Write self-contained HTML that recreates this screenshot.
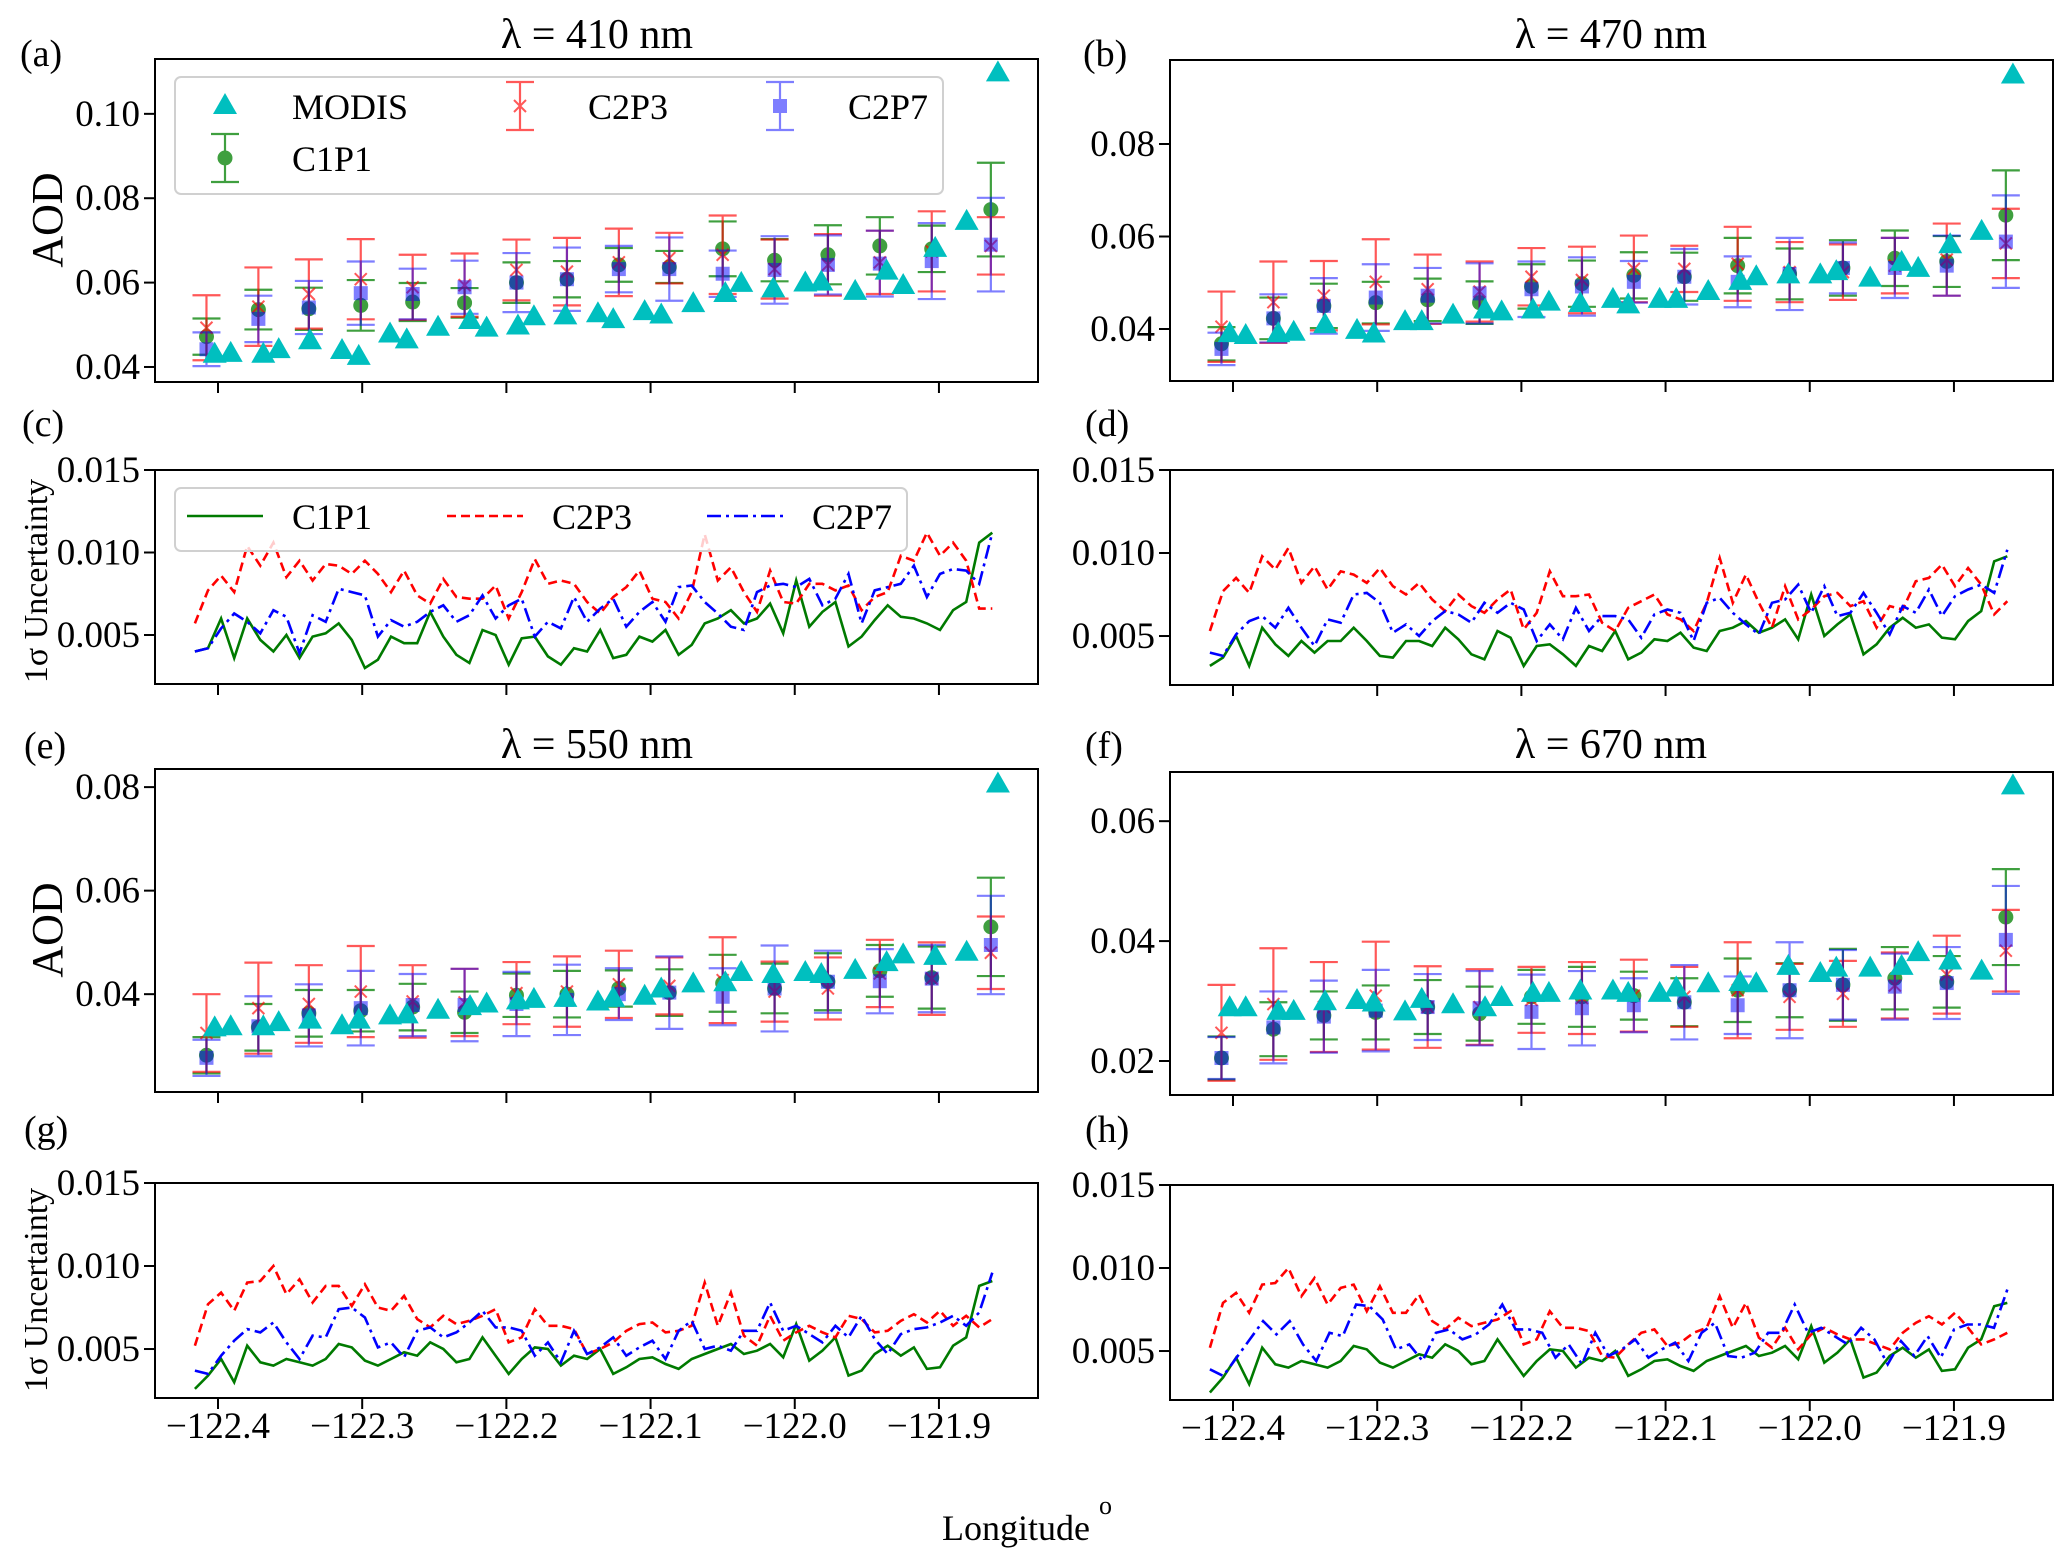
<!DOCTYPE html>
<html><head><meta charset="utf-8"><style>
html,body{margin:0;padding:0;background:#fff;}
svg{display:block;font-family:"Liberation Serif","DejaVu Serif",serif;}
</style></head><body>
<svg id="chart" width="2067" height="1565" viewBox="0 0 2067 1565" xmlns="http://www.w3.org/2000/svg">
<rect x="0" y="0" width="2067" height="1565" fill="#fff"/>
<text x="20" y="66" font-size="38">(a)</text>
<text x="1083" y="66" font-size="38">(b)</text>
<text x="22" y="436" font-size="38">(c)</text>
<text x="1085" y="436" font-size="38">(d)</text>
<text x="24" y="758" font-size="38">(e)</text>
<text x="1085" y="758" font-size="38">(f)</text>
<text x="24" y="1142" font-size="38">(g)</text>
<text x="1085" y="1142" font-size="38">(h)</text>
<text x="597" y="48" font-size="42" text-anchor="middle">λ = 410 nm</text>
<text x="1611" y="48" font-size="42" text-anchor="middle">λ = 470 nm</text>
<text x="597" y="758" font-size="42" text-anchor="middle">λ = 550 nm</text>
<text x="1611" y="758" font-size="42" text-anchor="middle">λ = 670 nm</text>
<text transform="translate(62,220) rotate(-90)" font-size="44" text-anchor="middle">AOD</text>
<text transform="translate(62,930) rotate(-90)" font-size="44" text-anchor="middle">AOD</text>
<text transform="translate(47,581) rotate(-90)" font-size="34" text-anchor="middle">1σ Uncertainty</text>
<text transform="translate(47,1290) rotate(-90)" font-size="34" text-anchor="middle">1σ Uncertainty</text>
<text x="942" y="1540" font-size="36">Longitude <tspan dy="-26" font-size="26">o</tspan></text>
</svg>
<script>
// ---------- data ----------
const xTickValues = [-122.4, -122.3, -122.2, -122.1, -122.0, -121.9];
const xTickLabels = ["\u2212122.4", "\u2212122.3", "\u2212122.2", "\u2212122.1", "\u2212122.0", "\u2212121.9"];
const aodTicksA = [0.04, 0.06, 0.08, 0.10];
const aodTickLabelsA = ["0.04", "0.06", "0.08", "0.10"];
const aodTicksB = [0.04, 0.06, 0.08];
const aodTickLabelsB = ["0.04", "0.06", "0.08"];
const aodTicksE = [0.04, 0.06, 0.08];
const aodTickLabelsE = ["0.04", "0.06", "0.08"];
const aodTicksF = [0.02, 0.04, 0.06];
const aodTickLabelsF = ["0.02", "0.04", "0.06"];
const uncTicks = [0.005, 0.010, 0.015];
const uncTickLabels = ["0.005", "0.010", "0.015"];

const retrievalLon = [-122.408,-122.372,-122.337,-122.301,-122.265,-122.229,-122.193,-122.158,-122.122,-122.087,-122.050,-122.014,-121.977,-121.941,-121.905,-121.864];
const modisLon = [-122.4023,-122.3912,-122.3686,-122.3579,-122.3362,-122.3140,-122.3024,-122.2807,-122.2691,-122.2474,-122.2252,-122.2137,-122.1920,-122.1809,-122.1591,-122.1365,-122.1259,-122.1041,-122.0926,-122.0704,-122.0482,-122.0371,-122.0149,-121.9927,-121.9816,-121.9581,-121.9363,-121.9248,-121.9026,-121.8808,-121.8591];

// 410 nm
const modisA = [0.0429,0.0431,0.0429,0.0440,0.0461,0.0438,0.0424,0.0477,0.0463,0.0493,0.0509,0.0491,0.0496,0.0518,0.0520,0.0525,0.0511,0.0530,0.0522,0.0549,0.0573,0.0597,0.0584,0.0598,0.0600,0.0578,0.0626,0.0592,0.0680,0.0744,0.1096];
const c1p1A = [0.0472,0.0536,0.0538,0.0546,0.0554,0.0552,0.0600,0.0608,0.0642,0.0637,0.0680,0.0653,0.0666,0.0687,0.0680,0.0773];
const c1p1ErrA = [0.0043,0.0047,0.0050,0.0060,0.0045,0.0035,0.0048,0.0043,0.0040,0.0038,0.0065,0.0050,0.0070,0.0068,0.0055,0.0111];
const c2p3A = [0.0493,0.0543,0.0573,0.0608,0.0589,0.0594,0.0630,0.0626,0.0648,0.0658,0.0666,0.0632,0.0642,0.0648,0.0674,0.0687];
const c2p3ErrA = [0.0077,0.0093,0.0082,0.0095,0.0077,0.0075,0.0072,0.0080,0.0080,0.0060,0.0093,0.0070,0.0073,0.0075,0.0095,0.0068];
const c2p7A = [0.0442,0.0514,0.0541,0.0575,0.0573,0.0589,0.0600,0.0608,0.0632,0.0632,0.0621,0.0630,0.0642,0.0645,0.0651,0.0690];
const c2p7ErrA = [0.0040,0.0055,0.0063,0.0075,0.0060,0.0063,0.0070,0.0075,0.0055,0.0075,0.0055,0.0080,0.0070,0.0078,0.0090,0.0111];

// 470 nm
const modisB = [0.0389,0.0385,0.0389,0.0392,0.0408,0.0396,0.0388,0.0415,0.0415,0.0429,0.0440,0.0436,0.0440,0.0457,0.0454,0.0463,0.0451,0.0463,0.0463,0.0480,0.0502,0.0512,0.0516,0.0516,0.0523,0.0509,0.0543,0.0530,0.0581,0.0610,0.0948];
const c1p1B = [0.0368,0.0423,0.0450,0.0457,0.0463,0.0457,0.0492,0.0498,0.0516,0.0513,0.0537,0.0519,0.0532,0.0553,0.0546,0.0646];
const c1p1ErrB = [0.0036,0.0045,0.0048,0.0045,0.0046,0.0046,0.0048,0.0050,0.0050,0.0052,0.0060,0.0055,0.0060,0.0060,0.0055,0.0097];
const c2p3B = [0.0405,0.0458,0.0472,0.0502,0.0486,0.0481,0.0513,0.0506,0.0530,0.0530,0.0541,0.0523,0.0523,0.0537,0.0550,0.0585];
const c2p3ErrB = [0.0076,0.0088,0.0075,0.0092,0.0075,0.0065,0.0062,0.0072,0.0072,0.0050,0.0080,0.0065,0.0060,0.0060,0.0078,0.0075];
const c2p7B = [0.0357,0.0423,0.0450,0.0468,0.0472,0.0477,0.0486,0.0492,0.0502,0.0513,0.0502,0.0519,0.0532,0.0532,0.0537,0.0589];
const c2p7ErrB = [0.0035,0.0052,0.0060,0.0072,0.0060,0.0065,0.0060,0.0063,0.0045,0.0060,0.0055,0.0078,0.0055,0.0065,0.0065,0.0100];

// 550 nm
const modisE = [0.0334,0.0336,0.0336,0.0344,0.0349,0.0338,0.0349,0.0357,0.0359,0.0368,0.0375,0.0380,0.0386,0.0389,0.0391,0.0384,0.0391,0.0395,0.0409,0.0419,0.0421,0.0441,0.0437,0.0441,0.0437,0.0445,0.0460,0.0475,0.0472,0.0480,0.0805];
const c1p1E = [0.0282,0.0336,0.0363,0.0368,0.0375,0.0365,0.0398,0.0400,0.0411,0.0403,0.0421,0.0411,0.0424,0.0445,0.0432,0.0530];
const c1p1ErrE = [0.0035,0.0045,0.0045,0.0040,0.0045,0.0040,0.0042,0.0045,0.0035,0.0045,0.0055,0.0048,0.0055,0.0050,0.0060,0.0095];
const c2p3E = [0.0325,0.0373,0.0381,0.0405,0.0386,0.0384,0.0402,0.0405,0.0419,0.0416,0.0427,0.0405,0.0411,0.0440,0.0430,0.0480];
const c2p3ErrE = [0.0075,0.0088,0.0075,0.0088,0.0070,0.0065,0.0060,0.0068,0.0065,0.0055,0.0083,0.0058,0.0060,0.0065,0.0070,0.0070];
const c2p7E = [0.0277,0.0338,0.0359,0.0373,0.0379,0.0379,0.0381,0.0389,0.0400,0.0403,0.0395,0.0411,0.0424,0.0425,0.0430,0.0495];
const c2p7ErrE = [0.0035,0.0058,0.0060,0.0072,0.0060,0.0070,0.0062,0.0068,0.0050,0.0070,0.0055,0.0083,0.0060,0.0062,0.0065,0.0095];

// 670 nm
const modisF = [0.0288,0.0288,0.0282,0.0282,0.0298,0.0300,0.0296,0.0281,0.0302,0.0293,0.0288,0.0305,0.0312,0.0312,0.0316,0.0316,0.0312,0.0312,0.0321,0.0328,0.0330,0.0328,0.0357,0.0345,0.0354,0.0354,0.0357,0.0380,0.0366,0.0349,0.0658];
const c1p1F = [0.0205,0.0253,0.0276,0.0281,0.0290,0.0279,0.0307,0.0307,0.0309,0.0298,0.0318,0.0318,0.0327,0.0338,0.0332,0.0440];
const c1p1ErrF = [0.0036,0.0045,0.0040,0.0045,0.0045,0.0045,0.0045,0.0050,0.0040,0.0040,0.0053,0.0045,0.0060,0.0052,0.0043,0.0080];
const c2p3F = [0.0247,0.0295,0.0290,0.0309,0.0290,0.0290,0.0302,0.0305,0.0309,0.0307,0.0318,0.0307,0.0312,0.0326,0.0344,0.0384];
const c2p3ErrF = [0.0080,0.0093,0.0075,0.0090,0.0068,0.0063,0.0055,0.0060,0.0060,0.0050,0.0080,0.0055,0.0055,0.0055,0.0065,0.0068];
const c2p7F = [0.0205,0.0256,0.0274,0.0284,0.0290,0.0288,0.0282,0.0288,0.0293,0.0298,0.0293,0.0318,0.0327,0.0324,0.0330,0.0402];
const c2p7ErrF = [0.0035,0.0060,0.0060,0.0068,0.0055,0.0062,0.0062,0.0062,0.0045,0.0062,0.0048,0.0080,0.0058,0.0055,0.0060,0.0090];

// uncertainty lines (evenly spaced along the track)
const uncLonStart = -122.416, uncLonEnd = -121.863;
const uncC1p1C = [0.0040,0.0042,0.0060,0.0036,0.0060,0.0047,0.0040,0.0050,0.0036,0.0049,0.0051,0.0057,0.0047,0.0030,0.0035,0.0049,0.0045,0.0045,0.0064,0.0049,0.0038,0.0033,0.0053,0.0050,0.0032,0.0048,0.0049,0.0037,0.0032,0.0042,0.0040,0.0053,0.0036,0.0038,0.0049,0.0046,0.0053,0.0038,0.0044,0.0057,0.0060,0.0065,0.0057,0.0060,0.0069,0.0051,0.0083,0.0055,0.0064,0.0070,0.0043,0.0049,0.0059,0.0068,0.0061,0.0060,0.0057,0.0053,0.0065,0.0070,0.0106,0.0112];
const uncC2p3C = [0.0057,0.0077,0.0086,0.0076,0.0104,0.0092,0.0106,0.0085,0.0095,0.0083,0.0093,0.0092,0.0087,0.0095,0.0087,0.0076,0.0089,0.0074,0.0069,0.0084,0.0073,0.0072,0.0072,0.0080,0.0060,0.0076,0.0096,0.0081,0.0083,0.0081,0.0070,0.0063,0.0073,0.0079,0.0089,0.0072,0.0070,0.0060,0.0076,0.0111,0.0083,0.0091,0.0076,0.0064,0.0089,0.0070,0.0069,0.0081,0.0081,0.0077,0.0080,0.0065,0.0073,0.0076,0.0098,0.0095,0.0112,0.0098,0.0106,0.0095,0.0066,0.0066];
const uncC2p7C = [0.0040,0.0042,0.0054,0.0063,0.0058,0.0051,0.0065,0.0061,0.0039,0.0062,0.0058,0.0078,0.0076,0.0074,0.0049,0.0059,0.0055,0.0058,0.0064,0.0068,0.0058,0.0062,0.0074,0.0060,0.0068,0.0072,0.0049,0.0058,0.0054,0.0073,0.0058,0.0066,0.0072,0.0055,0.0064,0.0070,0.0058,0.0079,0.0080,0.0070,0.0063,0.0055,0.0053,0.0076,0.0080,0.0081,0.0079,0.0084,0.0068,0.0072,0.0087,0.0057,0.0077,0.0079,0.0081,0.0092,0.0073,0.0087,0.0090,0.0089,0.0081,0.0112];
const uncC1p1D = [0.0032,0.0037,0.0050,0.0032,0.0055,0.0045,0.0038,0.0047,0.0040,0.0047,0.0047,0.0055,0.0047,0.0038,0.0037,0.0047,0.0047,0.0044,0.0055,0.0048,0.0039,0.0036,0.0053,0.0049,0.0032,0.0044,0.0045,0.0039,0.0032,0.0044,0.0041,0.0053,0.0036,0.0040,0.0048,0.0047,0.0052,0.0043,0.0041,0.0053,0.0055,0.0059,0.0052,0.0055,0.0060,0.0048,0.0075,0.0050,0.0057,0.0063,0.0039,0.0045,0.0055,0.0061,0.0055,0.0057,0.0049,0.0048,0.0059,0.0065,0.0095,0.0098];
const uncC2p3D = [0.0053,0.0077,0.0085,0.0076,0.0098,0.0090,0.0103,0.0082,0.0092,0.0078,0.0089,0.0087,0.0082,0.0091,0.0080,0.0075,0.0082,0.0072,0.0065,0.0075,0.0068,0.0064,0.0072,0.0078,0.0054,0.0064,0.0089,0.0074,0.0074,0.0075,0.0058,0.0053,0.0067,0.0071,0.0075,0.0063,0.0060,0.0053,0.0070,0.0097,0.0070,0.0087,0.0070,0.0055,0.0080,0.0060,0.0066,0.0074,0.0076,0.0068,0.0071,0.0055,0.0068,0.0066,0.0083,0.0085,0.0093,0.0080,0.0091,0.0081,0.0063,0.0071];
const uncC2p7D = [0.0040,0.0038,0.0051,0.0059,0.0062,0.0055,0.0067,0.0055,0.0044,0.0060,0.0058,0.0075,0.0076,0.0070,0.0052,0.0057,0.0050,0.0059,0.0065,0.0063,0.0058,0.0070,0.0064,0.0070,0.0066,0.0047,0.0057,0.0048,0.0067,0.0053,0.0062,0.0062,0.0060,0.0049,0.0063,0.0066,0.0064,0.0047,0.0070,0.0073,0.0064,0.0057,0.0051,0.0070,0.0072,0.0081,0.0064,0.0080,0.0062,0.0064,0.0076,0.0064,0.0051,0.0068,0.0064,0.0078,0.0062,0.0074,0.0078,0.0081,0.0076,0.0102];
const uncC1p1G = [0.0026,0.0034,0.0044,0.0030,0.0052,0.0042,0.0040,0.0044,0.0042,0.0040,0.0044,0.0053,0.0051,0.0043,0.0040,0.0044,0.0048,0.0046,0.0054,0.0050,0.0042,0.0044,0.0057,0.0046,0.0035,0.0044,0.0051,0.0050,0.0040,0.0046,0.0044,0.0050,0.0035,0.0039,0.0044,0.0045,0.0041,0.0038,0.0044,0.0047,0.0050,0.0053,0.0047,0.0049,0.0053,0.0045,0.0065,0.0043,0.0049,0.0057,0.0034,0.0037,0.0047,0.0052,0.0046,0.0051,0.0038,0.0039,0.0052,0.0057,0.0088,0.0091];
const uncC2p3G = [0.0052,0.0077,0.0084,0.0073,0.0090,0.0091,0.0100,0.0083,0.0092,0.0078,0.0088,0.0088,0.0076,0.0089,0.0075,0.0073,0.0082,0.0068,0.0063,0.0070,0.0065,0.0067,0.0070,0.0074,0.0054,0.0057,0.0074,0.0064,0.0064,0.0062,0.0047,0.0050,0.0054,0.0061,0.0065,0.0066,0.0060,0.0061,0.0064,0.0090,0.0064,0.0084,0.0058,0.0052,0.0070,0.0055,0.0060,0.0064,0.0060,0.0057,0.0070,0.0068,0.0060,0.0061,0.0067,0.0071,0.0066,0.0073,0.0064,0.0070,0.0063,0.0068];
const uncC2p7G = [0.0037,0.0035,0.0046,0.0055,0.0062,0.0060,0.0066,0.0054,0.0044,0.0058,0.0057,0.0074,0.0075,0.0069,0.0051,0.0054,0.0045,0.0061,0.0063,0.0057,0.0060,0.0066,0.0073,0.0063,0.0063,0.0061,0.0046,0.0054,0.0042,0.0061,0.0047,0.0051,0.0057,0.0046,0.0051,0.0055,0.0044,0.0061,0.0067,0.0050,0.0052,0.0049,0.0061,0.0061,0.0078,0.0061,0.0064,0.0059,0.0054,0.0064,0.0057,0.0070,0.0056,0.0047,0.0059,0.0062,0.0063,0.0066,0.0070,0.0064,0.0072,0.0096];
const uncC1p1H = [0.0025,0.0034,0.0046,0.0030,0.0052,0.0042,0.0040,0.0044,0.0042,0.0040,0.0044,0.0053,0.0051,0.0043,0.0040,0.0044,0.0048,0.0046,0.0054,0.0050,0.0042,0.0044,0.0057,0.0046,0.0035,0.0044,0.0051,0.0050,0.0040,0.0046,0.0044,0.0050,0.0035,0.0039,0.0044,0.0045,0.0041,0.0038,0.0044,0.0047,0.0050,0.0053,0.0047,0.0049,0.0053,0.0045,0.0065,0.0043,0.0049,0.0057,0.0034,0.0037,0.0047,0.0052,0.0046,0.0051,0.0038,0.0039,0.0052,0.0057,0.0077,0.0079];
const uncC2p3H = [0.0052,0.0079,0.0085,0.0073,0.0090,0.0091,0.0100,0.0083,0.0094,0.0078,0.0088,0.0090,0.0074,0.0089,0.0073,0.0073,0.0084,0.0068,0.0063,0.0070,0.0065,0.0067,0.0069,0.0074,0.0054,0.0057,0.0074,0.0064,0.0064,0.0062,0.0047,0.0046,0.0054,0.0061,0.0063,0.0053,0.0055,0.0061,0.0064,0.0083,0.0064,0.0079,0.0058,0.0052,0.0064,0.0051,0.0060,0.0064,0.0060,0.0057,0.0057,0.0054,0.0051,0.0061,0.0067,0.0071,0.0066,0.0073,0.0064,0.0054,0.0057,0.0061];
const uncC2p7H = [0.0039,0.0035,0.0046,0.0057,0.0068,0.0060,0.0068,0.0054,0.0044,0.0061,0.0059,0.0078,0.0077,0.0069,0.0051,0.0054,0.0044,0.0061,0.0063,0.0057,0.0060,0.0066,0.0078,0.0063,0.0063,0.0061,0.0046,0.0054,0.0042,0.0061,0.0047,0.0051,0.0057,0.0046,0.0051,0.0055,0.0044,0.0061,0.0067,0.0047,0.0046,0.0049,0.0061,0.0061,0.0078,0.0061,0.0064,0.0059,0.0054,0.0064,0.0057,0.0042,0.0056,0.0047,0.0059,0.0046,0.0063,0.0066,0.0066,0.0064,0.0087];

// ---------- drawing ----------
const NS = 'http://www.w3.org/2000/svg';
const svg = document.getElementById('chart');
const LON_MIN = -122.4437, LON_MAX = -121.8313;
function mk(tag, attrs, parent) {
  const e = document.createElementNS(NS, tag);
  for (const k in attrs) e.setAttribute(k, attrs[k]);
  (parent || svg).appendChild(e);
  return e;
}
function xS(p, lon) { return p.x0 + (lon - LON_MIN) / (LON_MAX - LON_MIN) * (p.x1 - p.x0); }
function yS(p, v) { return p.y1 - (v - p.ymin) / (p.ymax - p.ymin) * (p.y1 - p.y0); }

function axes(p, id, yt, ytl, showX) {
  const g = mk('g', {});
  
  
  xTickValues.forEach((v, i) => {
    const x = xS(p, v);
    const t = mk('line', {x1: x, x2: x, y1: p.y1, y2: p.y1 + 11, stroke: '#000', 'stroke-width': 2}, g);
    
    
    if (showX) {
      const l = mk('text', {x: x, y: p.y1 + 40, 'font-size': 37, 'text-anchor': 'middle'}, g);
      
      
      l.textContent = xTickLabels[i];
    }
  });
  yt.forEach((v, i) => {
    const y = yS(p, v);
    const t = mk('line', {x1: p.x0 - 11, x2: p.x0, y1: y, y2: y, stroke: '#000', 'stroke-width': 2}, g);
    
    
    const l = mk('text', {x: p.x0 - 15, y: y + 12, 'font-size': 37, 'text-anchor': 'end'}, g);
    
    
    l.textContent = ytl[i];
  });
}
function frame(p, id) {
  const r = mk('rect', {x: p.x0, y: p.y0, width: p.x1 - p.x0, height: p.y1 - p.y0, fill: 'none', stroke: '#000', 'stroke-width': 2});
  
  
}
function tri(g, x, y) {
  return mk('path', {d: `M${x},${y-13} L${x+12},${y+8} L${x-12},${y+8} Z`, fill: '#00bfbf'}, g);
}
function errSeries(p, id, name, vals, errs, color, op, marker) {
  const g = mk('g', {opacity: op});
  
  
  vals.forEach((v, i) => {
    const x = xS(p, retrievalLon[i]);
    const yt = yS(p, v + errs[i]), yb = yS(p, v - errs[i]), y = yS(p, v);
    const ln = mk('path', {d: `M${x},${yt} V${yb} M${x-14},${yt} H${x+14} M${x-14},${yb} H${x+14}`, stroke: color, 'stroke-width': 2.2, fill: 'none'}, g);
    
    
    let m;
    if (marker === 'o') m = mk('circle', {cx: x, cy: y, r: 7.5, fill: color}, g);
    else if (marker === 's') m = mk('rect', {x: x - 7, y: y - 7, width: 14, height: 14, fill: color}, g);
    else m = mk('path', {d: `M${x-6},${y-6} L${x+6},${y+6} M${x-6},${y+6} L${x+6},${y-6}`, stroke: color, 'stroke-width': 2}, g);
    
    
  });
}
function modis(p, id, vals) {
  const g = mk('g', {});
  
  
  vals.forEach((v, i) => {
    const t = tri(g, xS(p, modisLon[i]), yS(p, v));
    
    
  });
}
function line(p, id, name, vals, color, dash) {
  const n = vals.length;
  const pts = vals.map((v, i) => {
    const lon = uncLonStart + (uncLonEnd - uncLonStart) * i / (n - 1);
    return xS(p, lon).toFixed(1) + ',' + yS(p, v).toFixed(1);
  });
  const l = mk('polyline', {points: pts.join(' '), fill: 'none', stroke: color, 'stroke-width': 2.6, 'stroke-dasharray': dash, 'stroke-linejoin': 'miter'});
  
  
}

const panels = {
  a: {x0: 155, x1: 1038, y0: 59, y1: 382, ymin: 0.03644, ymax: 0.1130},
  b: {x0: 1170, x1: 2053, y0: 60, y1: 381, ymin: 0.02876, ymax: 0.09816},
  c: {x0: 155, x1: 1038, y0: 470, y1: 684, ymin: 0.00203, ymax: 0.015},
  d: {x0: 1170, x1: 2053, y0: 470, y1: 685, ymin: 0.00205, ymax: 0.015},
  e: {x0: 155, x1: 1038, y0: 769, y1: 1092, ymin: 0.0211, ymax: 0.0835},
  f: {x0: 1170, x1: 2053, y0: 772, y1: 1095, ymin: 0.01433, ymax: 0.0682},
  g: {x0: 155, x1: 1038, y0: 1183, y1: 1398, ymin: 0.00205, ymax: 0.015},
  h: {x0: 1170, x1: 2053, y0: 1185, y1: 1400, ymin: 0.00205, ymax: 0.015}
};

function aodPanel(k, yt, ytl, md, c1, c1e, c3, c3e, c7, c7e) {
  const p = panels[k], id = 'panel-' + k;
  axes(p, id, yt, ytl, false);
  errSeries(p, id, 'c1p1', c1, c1e, '#008000', 0.75, 'o');
  errSeries(p, id, 'c2p3', c3, c3e, '#ff0000', 0.65, 'x');
  errSeries(p, id, 'c2p7', c7, c7e, '#0000ff', 0.5, 's');
  modis(p, id, md);
  frame(p, id);
}
function uncPanel(k, g1, r3, b7, showX) {
  const p = panels[k], id = 'panel-' + k;
  axes(p, id, uncTicks, uncTickLabels, showX);
  line(p, id, 'c1p1', g1, '#007a00', 'none');
  line(p, id, 'c2p3', r3, '#ff0000', '9,5');
  line(p, id, 'c2p7', b7, '#0000ff', '14,5,3,5');
  frame(p, id);
}
aodPanel('a', aodTicksA, aodTickLabelsA, modisA, c1p1A, c1p1ErrA, c2p3A, c2p3ErrA, c2p7A, c2p7ErrA);
aodPanel('b', aodTicksB, aodTickLabelsB, modisB, c1p1B, c1p1ErrB, c2p3B, c2p3ErrB, c2p7B, c2p7ErrB);
aodPanel('e', aodTicksE, aodTickLabelsE, modisE, c1p1E, c1p1ErrE, c2p3E, c2p3ErrE, c2p7E, c2p7ErrE);
aodPanel('f', aodTicksF, aodTickLabelsF, modisF, c1p1F, c1p1ErrF, c2p3F, c2p3ErrF, c2p7F, c2p7ErrF);
uncPanel('c', uncC1p1C, uncC2p3C, uncC2p7C, false);
uncPanel('d', uncC1p1D, uncC2p3D, uncC2p7D, false);
uncPanel('g', uncC1p1G, uncC2p3G, uncC2p7G, true);
uncPanel('h', uncC1p1H, uncC2p3H, uncC2p7H, true);

// ---------- legends ----------
const lg = mk('g', {});


const lgBox = mk('rect', {x: 175, y: 77, width: 768, height: 117, rx: 6, fill: '#fff', 'fill-opacity': 0.8, stroke: '#d0d0d0', 'stroke-width': 2}, lg);


const lt1 = tri(lg, 225, 106);


function legErr(x, y, color, op, marker, label) {
  const g = mk('g', {opacity: op}, lg);
  
  
  mk('path', {d: `M${x},${y-24} V${y+24} M${x-14},${y-24} H${x+14} M${x-14},${y+24} H${x+14}`, stroke: color, 'stroke-width': 2.2, fill: 'none'}, g);
  if (marker === 'o') mk('circle', {cx: x, cy: y, r: 7.5, fill: color}, g);
  else if (marker === 's') mk('rect', {x: x - 7, y: y - 7, width: 14, height: 14, fill: color}, g);
  else mk('path', {d: `M${x-6},${y-6} L${x+6},${y+6} M${x-6},${y+6} L${x+6},${y-6}`, stroke: color, 'stroke-width': 2}, g);
}
legErr(520, 106, '#ff0000', 0.65, 'x', 'C2P3');
legErr(780, 106, '#0000ff', 0.5, 's', 'C2P7');
legErr(225, 158, '#008000', 0.75, 'o', 'C1P1');
[['MODIS', 292, 119], ['C2P3', 588, 119], ['C2P7', 848, 119], ['C1P1', 292, 171]].forEach(d => {
  const t = mk('text', {x: d[1], y: d[2], 'font-size': 36}, lg);
  
  
  t.textContent = d[0];
});

const lg2 = mk('g', {});


const lg2Box = mk('rect', {x: 175, y: 488, width: 732, height: 63, rx: 6, fill: '#fff', 'fill-opacity': 0.8, stroke: '#d0d0d0', 'stroke-width': 2}, lg2);


[['C1P1', 187, '#007a00', 'none'], ['C2P3', 447, '#ff0000', '9,5'], ['C2P7', 707, '#0000ff', '14,5,3,5']].forEach(d => {
  const l = mk('line', {x1: d[1], x2: d[1] + 76, y1: 516, y2: 516, stroke: d[2], 'stroke-width': 2.6, 'stroke-dasharray': d[3]}, lg2);
  
  
  const t = mk('text', {x: d[1] + 105, y: 529, 'font-size': 36}, lg2);
  
  
  t.textContent = d[0];
});
</script>
</body></html>
